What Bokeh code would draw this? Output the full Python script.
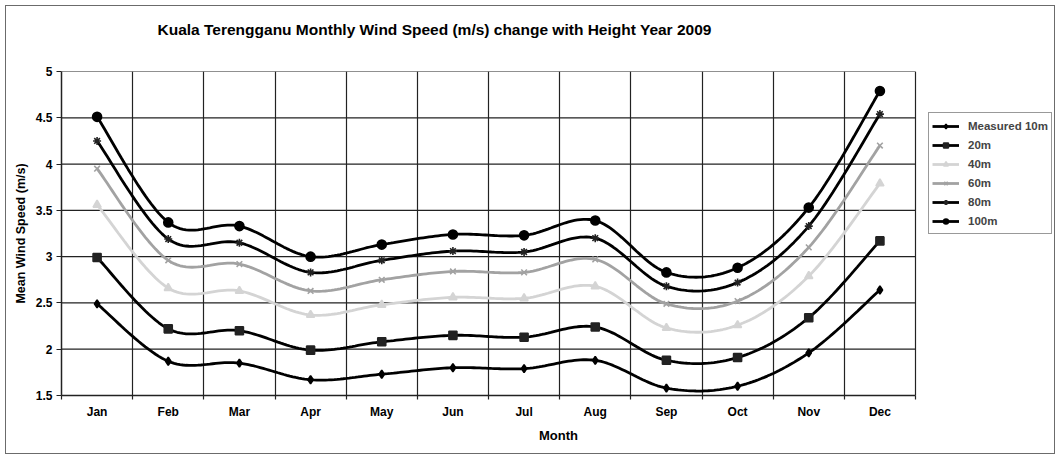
import numpy as np
from bokeh.plotting import figure
from bokeh.models import FixedTicker, Legend, LegendItem, Range1d, Title
from bokeh.embed import file_html
from bokeh.resources import INLINE

months = ["Jan", "Feb", "Mar", "Apr", "May", "Jun", "Jul", "Aug", "Sep", "Oct", "Nov", "Dec"]
series_names = ["Measured 10m", "20m", "40m", "60m", "80m", "100m"]
h10 = [2.49, 1.87, 1.85, 1.67, 1.73, 1.80, 1.79, 1.88, 1.58, 1.60, 1.96, 2.64]
h20 = [2.99, 2.22, 2.20, 1.99, 2.08, 2.15, 2.13, 2.24, 1.88, 1.91, 2.34, 3.17]
h40 = [3.56, 2.66, 2.63, 2.37, 2.48, 2.56, 2.55, 2.68, 2.23, 2.26, 2.79, 3.79]
h60 = [3.95, 2.96, 2.92, 2.63, 2.75, 2.84, 2.83, 2.97, 2.49, 2.52, 3.10, 4.20]
h80 = [4.25, 3.19, 3.15, 2.83, 2.96, 3.06, 3.05, 3.20, 2.68, 2.72, 3.33, 4.54]
h100 = [4.51, 3.37, 3.33, 3.00, 3.13, 3.24, 3.23, 3.39, 2.83, 2.88, 3.53, 4.79]
y_ticks = [1.5, 2, 2.5, 3, 3.5, 4, 4.5, 5]
y_tick_labels = ["1.5", "2", "2.5", "3", "3.5", "4", "4.5", "5"]

FONT = "Liberation Sans"

def smooth(xs, ys, n=24):
    pts = np.column_stack([xs, ys]).astype(float)
    m = len(pts)
    ox, oy = [], []
    for i in range(m - 1):
        p0 = pts[i - 1] if i > 0 else pts[i]
        p1 = pts[i]
        p2 = pts[i + 1]
        p3 = pts[i + 2] if i + 2 < m else pts[i + 1]
        c1 = p1 + (p2 - p0) / 6.0
        c2 = p2 - (p3 - p1) / 6.0
        t = np.linspace(0, 1, n, endpoint=(i == m - 2))
        b = ((1 - t) ** 3)[:, None] * p1 + (3 * (1 - t) ** 2 * t)[:, None] * c1 \
            + (3 * (1 - t) * t ** 2)[:, None] * c2 + (t ** 3)[:, None] * p2
        ox.extend(b[:, 0]); oy.extend(b[:, 1])
    return ox, oy

n_cat = len(months)
xc = [i + 0.5 for i in range(n_cat)]
bounds = list(range(n_cat + 1))

W, H = 1050, 449
ML, MR, MT, MB = 55, 1, 65, 60
frame_w = W - ML - MR
px_per_cat = 854 / n_cat          # plot-area width for the 12 months
x_end = frame_w / px_per_cat      # extra room on the right holds the legend

p = figure(width=W, height=H, output_backend="svg", toolbar_location=None,
           x_range=Range1d(0, x_end), y_range=Range1d(1.5, 5),
           min_border_left=ML, min_border_right=MR, min_border_top=MT, min_border_bottom=MB)
p.styles = {"border": "1px solid #6b6b6b", "margin": "5px 5px 0px 5px"}
p.background_fill_color = "white"
p.border_fill_color = "white"
p.outline_line_color = None

# blank spacer between the plot area and the title
p.add_layout(Title(text=" ", text_font_size="20px", standoff=10), "above")

p.title.text = "Kuala Terengganu Monthly Wind Speed (m/s) change with Height Year 2009"
p.title.align = "left"
p.title.vertical_align = "bottom"
p.title.offset = 96
p.title.standoff = 0
p.title.text_font = FONT
p.title.text_font_style = "bold"
p.title.text_font_size = "15.5px"
p.title.text_color = "black"

# grids: vertical category boundaries from the grid, horizontal lines limited to the plot area
p.xgrid.ticker = FixedTicker(ticks=bounds)
p.xgrid.grid_line_color = "#222222"
p.xgrid.grid_line_width = 1.2
p.ygrid.grid_line_color = None
p.segment(x0=0, x1=n_cat, y0=y_ticks, y1=y_ticks, line_color="#222222", line_width=1.2)

# x axis
xa = p.xaxis[0]
xa.bounds = (0, n_cat)
xa.ticker = FixedTicker(ticks=xc, minor_ticks=bounds)
xa.major_label_overrides = {c: m for c, m in zip(xc, months)}
xa.major_tick_out = 0
xa.major_tick_in = 0
xa.minor_tick_out = 4
xa.minor_tick_in = 0
xa.minor_tick_line_color = "#222222"
xa.minor_tick_line_width = 1.2
xa.axis_line_color = "#222222"
xa.axis_line_width = 1.5
xa.major_label_standoff = 5
xa.major_label_text_font = FONT
xa.major_label_text_font_style = "bold"
xa.major_label_text_font_size = "12px"
xa.major_label_text_color = "black"
xa.axis_label = "Month"
xa.axis_label_text_font = FONT
xa.axis_label_text_font_style = "bold"
xa.axis_label_text_font_size = "13px"
xa.axis_label_text_color = "black"
xa.axis_label_standoff = 6

ya = p.yaxis[0]
ya.ticker = FixedTicker(ticks=y_ticks)
ya.major_label_overrides = {t: l for t, l in zip(y_ticks, y_tick_labels)}
ya.major_tick_out = 5
ya.major_tick_in = 0
ya.minor_tick_out = 0
ya.minor_tick_in = 0
ya.major_tick_line_color = "#222222"
ya.major_tick_line_width = 1.2
ya.axis_line_color = "#222222"
ya.axis_line_width = 1.5
ya.major_label_standoff = 4
ya.major_label_text_font = FONT
ya.major_label_text_font_style = "bold"
ya.major_label_text_font_size = "12px"
ya.major_label_text_color = "black"
ya.axis_label = "Mean Wind Speed (m/s)"
ya.axis_label_text_font = FONT
ya.axis_label_text_font_style = "bold"
ya.axis_label_text_font_size = "12.5px"
ya.axis_label_text_color = "black"
ya.axis_label_standoff = 5

styles = [
    (h10, "black", "#000000", "diamond", 8),
    (h20, "black", "#222222", "square", 8),
    (h40, "#d4d4d4", "#d4d4d4", "triangle", 8),
    (h60, "#a2a2a2", "#a2a2a2", "x", 8),
    (h80, "black", "#222222", "asterisk", 8),
    (h100, "black", "#000000", "circle", 9),
]
items = []
for name, (vals, lc, mc, marker, ms) in zip(series_names, styles):
    sx, sy = smooth(xc, vals)
    r1 = p.line(sx, sy, line_color=lc, line_width=2.8)
    r2 = p.scatter(xc, vals, marker=marker, size=ms, fill_color=mc, line_color=mc, line_width=1.6)
    items.append(LegendItem(label=name, renderers=[r1, r2]))

legend = Legend(items=items, location=(867, 161), orientation="vertical")
legend.label_text_font = FONT
legend.label_text_font_style = "bold"
legend.label_text_font_size = "11.5px"
legend.label_height = 19
legend.glyph_height = 12
legend.glyph_width = 27
legend.label_standoff = 9
legend.spacing = 0
legend.padding = 3
legend.margin = 0
legend.border_line_color = "#333333"
legend.border_line_width = 1.2
legend.background_fill_color = "white"
legend.background_fill_alpha = 1.0
p.add_layout(legend, "center")

open("out.html", "w").write(file_html(p, INLINE))
